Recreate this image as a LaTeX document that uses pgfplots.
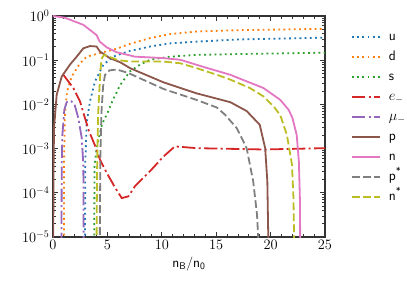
\documentclass[border=0pt]{standalone}
\usepackage{fontspec}
\usepackage{pgfplots}
\pgfplotsset{compat=1.18}
\definecolor{cU}{HTML}{1F77B4}
\definecolor{cD}{HTML}{FF7F0E}
\definecolor{cS}{HTML}{2CA02C}
\definecolor{cE}{HTML}{D62728}
\definecolor{cM}{HTML}{9467BD}
\definecolor{cP}{HTML}{8C564B}
\definecolor{cN}{HTML}{E377C2}
\definecolor{cPs}{HTML}{7F7F7F}
\definecolor{cNs}{HTML}{BCBD22}
\tikzset{
  dotl/.style={line width=1.8pt, dash pattern=on 1.8pt off 3.4pt},
  dashl/.style={line width=1.8pt, dash pattern=on 7.7pt off 3.3pt},
  dashdotl/.style={line width=1.8pt, dash pattern=on 13.3pt off 3.3pt on 2.1pt off 3.3pt},
  solidl/.style={line width=1.8pt},
}
\begin{document}
\begin{tikzpicture}
\begin{axis}[
  at={(0,0)}, anchor=south west,
  scale only axis, width=272pt, height=221pt,
  ymode=log, xmin=0, xmax=25, ymin=1e-5, ymax=1,
  xtick={0,5,10,15,20,25}, minor x tick num=4,
  ytick={1e-5,1e-4,1e-3,1e-2,1e-1,1},
  tick align=inside,
  major tick length=4.9pt, minor tick length=2.8pt,
  axis line style={line width=1.1pt, black!80},
  every tick/.style={black!80, line width=0.8pt},
  tick label style={font=\fontsize{13.9}{16}\selectfont},
  xlabel={\sffamily n\textsubscript{B}/n\textsubscript{0}},
  xlabel style={font=\fontsize{13.9}{16}\selectfont},
  legend style={at={(1.095,0.94595)}, anchor=north west, draw=none, fill=none,
    inner sep=0pt,
    font=\fontsize{13.9}{16}\selectfont\sffamily, row sep=2pt,
    nodes={inner sep=2pt, text height=10pt, text depth=4pt}},
  legend cell align=left,
  legend image code/.code={\draw[#1] (0pt,0pt) -- (27.8pt,0pt);\path (34pt,0pt);},
  no markers,
]
\addplot[cU, dotl] table[x=t, y expr=10^(\thisrow{ly})] {
t ly
2.94 -5.2
2.97 -3.3
3.1 -2.4
3.4 -1.93
3.86 -1.48
4.63 -1.1
5.55 -0.92
6.3 -0.85
7.08 -0.79
8.92 -0.69
10.76 -0.62
13.2 -0.58
17.2 -0.53
25 -0.49
};
\addlegendentry{u}
\addplot[cD, dotl] table[x=t, y expr=10^(\thisrow{ly})] {
t ly
1.0 -5.2
1.02 -3.2
1.1 -2.2
1.3 -1.7
1.72 -1.37
2.48 -1.07
3.1 -0.92
4.0 -0.86
5.86 -0.74
7.08 -0.63
8.92 -0.5
10.76 -0.41
13.2 -0.35
17.2 -0.32
25 -0.29
};
\addlegendentry{d}
\addplot[cS, dotl] table[x=t, y expr=10^(\thisrow{ly})] {
t ly
3.78 -5.2
3.82 -3.4
4.0 -3.0
4.5 -2.45
5.0 -2.2
5.5 -1.9
6.2 -1.55
7.08 -1.25
8.0 -1.1
8.92 -0.99
10.76 -0.92
13.2 -0.88
17.2 -0.86
25 -0.83
};
\addlegendentry{s}
\addplot[cE, dashdotl] table[x=t, y expr=10^(\thisrow{ly})] {
t ly
0.95 -1.33
1.87 -1.63
2.48 -1.93
2.94 -2.31
3.3 -2.6
3.86 -2.93
4.32 -3.25
4.94 -3.55
5.7 -3.88
6.32 -4.12
6.93 -4.08
7.54 -3.85
8.92 -3.51
10.15 -3.18
11.2 -2.95
13.2 -2.99
19.35 -3.02
25 -2.99
};
\addlegendentry{$e_-$}
\addplot[cM, dashdotl] table[x=t, y expr=10^(\thisrow{ly})] {
t ly
0.78 -5.2
0.8 -3.4
0.86 -2.7
1.04 -2.12
1.26 -1.95
1.45 -1.92
1.7 -1.93
2.0 -2.02
2.33 -2.31
2.64 -2.76
2.79 -3.36
2.82 -5.2
};
\addlegendentry{$\mu_-$}
\addplot[cP, solidl] table[x=t, y expr=10^(\thisrow{ly})] {
t ly
0.02 -5.2
0.05 -3.4
0.1 -2.5
0.34 -1.78
0.8 -1.37
1.56 -1.1
2.18 -0.92
2.79 -0.73
3.4 -0.68
4.0 -0.69
4.3 -0.8
5.2 -0.95
6.2 -1.05
7.08 -1.18
10.15 -1.5
13.2 -1.75
16.3 -1.95
17.8 -2.15
19.0 -2.46
19.5 -2.99
19.7 -3.74
19.8 -5.2
};
\addlegendentry{p}
\addplot[cN, solidl] table[x=t, y expr=10^(\thisrow{ly})] {
t ly
0 0
1.1 -0.04
2.79 -0.2
4.0 -0.43
4.3 -0.58
4.94 -0.71
5.86 -0.82
7.54 -0.92
10 -0.95
11.7 -0.99
13.8 -1.15
16.3 -1.33
17.2 -1.42
19.35 -1.63
20.9 -1.9
21.65 -2.12
22.0 -2.3
22.4 -2.69
22.6 -3.3
22.7 -4.2
22.72 -5.2
};
\addlegendentry{n}
\addplot[cPs, dashl] table[x=t, y expr=10^(\thisrow{ly})] {
t ly
4.3 -5.2
4.35 -3.2
4.45 -2.2
4.6 -1.6
4.78 -1.33
5.2 -1.23
5.86 -1.21
6.93 -1.29
10.15 -1.65
13.2 -1.9
15.06 -2.07
15.8 -2.23
16.9 -2.54
17.8 -2.99
18.4 -3.74
18.75 -4.49
18.9 -5.2
};
\addlegendentry{p\textsuperscript{*}}
\addplot[cNs, dashl] table[x=t, y expr=10^(\thisrow{ly})] {
t ly
4.0 -5.2
4.05 -3.5
4.15 -2.2
4.3 -1.5
4.4 -1.1
4.5 -0.95
4.7 -0.88
6.0 -1.0
7.08 -1.03
10.15 -1.03
11.7 -1.07
13.2 -1.18
15.06 -1.33
16.3 -1.44
18.1 -1.63
19.35 -1.82
20.3 -2.05
20.9 -2.25
21.5 -2.69
21.96 -3.36
22.1 -4.1
22.17 -5.2
};
\addlegendentry{n\textsuperscript{*}}
\end{axis}
\pgfresetboundingbox
\path[use as bounding box] (-53pt,-52pt) rectangle (354pt,237pt);
\end{tikzpicture}
\end{document}
